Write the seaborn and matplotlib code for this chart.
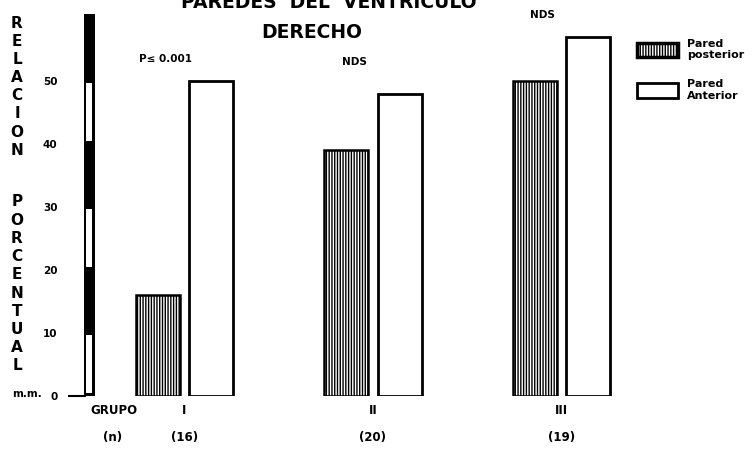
import matplotlib
matplotlib.use("Agg")
import matplotlib.pyplot as plt
from matplotlib.patches import Patch
import seaborn as sns
import pandas as pd

# Values per group (percent relation of wall thickness)
grupos = ["I", "II", "III"]
n_grupo = ["(16)", "(20)", "(19)"]
pared_posterior = [16, 39, 50]
pared_anterior = [50, 48, 57]
significancia = ["P\u2264 0.001", "NDS", "NDS"]
yticks = [0, 10, 20, 30, 40, 50]
serie_nombres = ["Pared posterior", "Pared Anterior"]
leyenda_textos = ["Pared\nposterior", "Pared\nAnterior"]

df = pd.DataFrame({
    "grupo": grupos * 2,
    "pared": [serie_nombres[0]] * 3 + [serie_nombres[1]] * 3,
    "valor": pared_posterior + pared_anterior,
})

sns.set_theme(style="white")
plt.rcParams["font.family"] = ["DejaVu Sans"]
plt.rcParams["font.weight"] = "bold"
plt.rcParams["text.color"] = "black"
plt.rcParams["ytick.color"] = "black"
plt.rcParams["hatch.linewidth"] = 1.0

W, H = 753, 451
fig = plt.figure(figsize=(W / 100, H / 100), dpi=100)
fig.patch.set_facecolor("white")

# Axes geometry in pixels
x0_px, y0_px, top_px = 84, 396, 14.2
ax = fig.add_axes([x0_px / W, (H - y0_px) / H, (W - x0_px) / W, (y0_px - top_px) / H])
ax.set_facecolor("white")

sns.barplot(data=df, x="grupo", y="valor", hue="pared", order=grupos,
            hue_order=serie_nombres, palette=["white", "white"],
            width=0.57, gap=0.18, dodge=True, legend=False,
            edgecolor="black", linewidth=1.8, ax=ax)

for bar in ax.containers[0]:
    bar.set_hatch("||||||")
    bar.set_edgecolor("black")
for bar in ax.containers[1]:
    bar.set_edgecolor("black")
    bar.set_linewidth(2.0)

ymax = 60.6
ax.set_ylim(0, ymax)
ax.set_xlim(-0.533, 3.016)

# Striped vertical axis: black and white alternating every 10 units
x_axis = -0.507
ax.bar(x_axis, ymax, width=0.064, bottom=0, color="black", linewidth=0)
for lo in yticks[::2]:
    ax.bar(x_axis, 9.3, width=0.028, bottom=lo + 0.4, color="white", linewidth=0)
ax.plot([-0.618, -0.52], [0, 0], color="black", lw=1.5, clip_on=False,
        solid_capstyle="butt")

for s in ax.spines.values():
    s.set_visible(False)
ax.set_xticks([])
ax.set_yticks(yticks)
ax.set_yticklabels([str(v) for v in yticks], fontsize=7.5, fontweight="bold",
                   color="black")
ax.tick_params(axis="y", length=0, pad=19)
ax.set_xlabel("")
ax.set_ylabel("")

# Significance labels above each pair
for i, (txt, p, a) in enumerate(zip(significancia, pared_posterior, pared_anterior)):
    y = max(53, max(p, a) + 3.5)
    ax.text(i - 0.1, y, txt, ha="center", va="center", fontsize=7.5,
            fontweight="bold", clip_on=False)

# Group labels below the bars
lab_fs = 8.5
for i, (g, n) in enumerate(zip(grupos, n_grupo)):
    fig.text((184.5 + 188.5 * i) / W, (H - 411) / H, g, ha="center", va="center",
             fontsize=lab_fs, fontweight="bold")
    fig.text((184.5 + 188.5 * i) / W, (H - 437) / H, n, ha="center", va="center",
             fontsize=lab_fs, fontweight="bold")
fig.text(114 / W, (H - 411) / H, "GRUPO", ha="center", va="center",
         fontsize=lab_fs, fontweight="bold")
fig.text(113 / W, (H - 437) / H, "(n)", ha="center", va="center",
         fontsize=lab_fs, fontweight="bold")
fig.text(27 / W, (H - 394) / H, "m.m.", ha="center", va="center",
         fontsize=7.5, fontweight="bold")

# Stacked vertical axis title
for word, y_start in (("RELACION", 23), ("PORCENTUAL", 202)):
    for k, ch in enumerate(word):
        fig.text(17 / W, (H - (y_start + 18.2 * k)) / H, ch, ha="center",
                 va="center", fontsize=11, fontweight="bold")

# Titles
fig.text(329 / W, (H - 8) / H, "PAREDES  DEL  VENTRICULO", ha="center",
         va="baseline", fontsize=13.5, fontweight="bold")
fig.text(312 / W, (H - 32) / H, "DERECHO", ha="center", va="center",
         fontsize=13.5, fontweight="bold")

# Legend
handles = [Patch(facecolor="white", edgecolor="black", hatch="||||||", linewidth=2.5),
           Patch(facecolor="white", edgecolor="black", linewidth=2.0)]
fs = 8
fig.legend(handles, leyenda_textos, loc="upper left",
           bbox_to_anchor=(629 / W, (H - 31) / H), frameon=False,
           prop={"size": fs, "weight": "bold"}, handlelength=3.7,
           handleheight=1.6, labelspacing=1.7, handletextpad=0.8,
           borderpad=0.2)

fig.savefig("out.png", dpi=100, facecolor="white")
